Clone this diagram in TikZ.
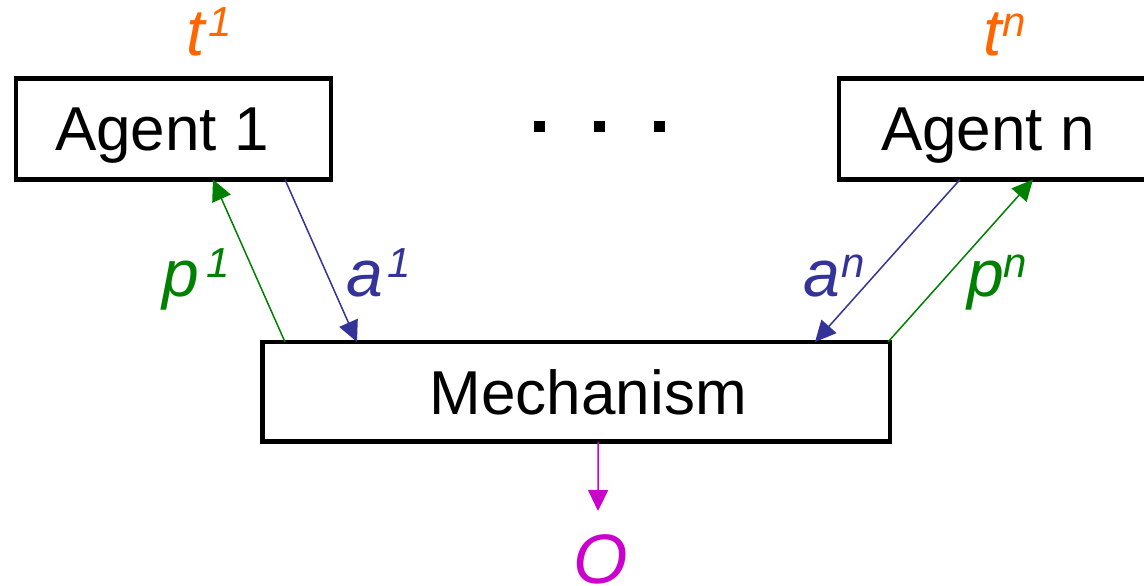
\documentclass[tikz,border=0pt]{standalone}
\usepackage{fontspec}
\setmainfont{Liberation Sans}
\usetikzlibrary{arrows.meta,calc}
\definecolor{torange}{RGB}{255,102,0}
\definecolor{pgreen}{RGB}{0,128,0}
\definecolor{ablue}{RGB}{51,51,153}
\definecolor{omag}{RGB}{204,0,204}
\newcommand\suplabel[3]{\fontsize{66}{70}\selectfont\itshape #1\hspace{#3}\raisebox{19pt}{\fontsize{42}{46}\selectfont #2}}
\begin{document}
\begin{tikzpicture}[x=1pt,y=-1pt,
  box/.style={draw, line width=4.5pt, outer sep=0pt, inner sep=0pt,
    font=\fontsize{62}{70}\selectfont, text depth=0pt},
  lbl/.style={anchor=base west, inner sep=0pt, outer sep=0pt},
  dotsq/.style={fill=black, inner sep=0pt, outer sep=0pt, minimum size=11pt},
  conn/.style={line width=1.5pt, -{Triangle[length=21pt,width=20pt]}}]
\useasboundingbox (0,0) rectangle (1144,586);
\clip (0,0) rectangle (1144,586);
% boxes
\node[box, minimum width=315pt, minimum height=101pt] (agent1) at (173.5,129) {Agent 1\hspace*{23pt}};
\node[box, minimum width=321pt, minimum height=101pt] (agentn) at (999.5,129) {Agent n\hspace*{23pt}};
\node[box, minimum width=627.5pt, minimum height=99.5pt] (mech) at (576.25,391.75) {\hspace*{24pt}Mechanism};
% dots
\node[dotsq] (d1) at (539.5,126) {};
\node[dotsq] (d2) at (599.5,126) {};
\node[dotsq] (d3) at (659,126) {};
% labels
\node[lbl, text=torange] (t1) at (186,56) {\suplabel{t}{1}{4pt}};
\node[lbl, text=torange] (tn) at (983,56) {\suplabel{t}{n}{1pt}};
\node[lbl, text=pgreen] (p1) at (162,296) {\suplabel{p}{1}{8pt}};
\node[lbl, text=ablue] (a1) at (346,296) {\suplabel{a}{1}{5pt}};
\node[lbl, text=ablue] (an) at (803,296) {\suplabel{a}{n}{2pt}};
\node[lbl, text=pgreen] (pn) at (967,296) {\suplabel{p}{n}{0pt}};
\node[lbl, text=omag, font=\fontsize{70}{74}\selectfont\itshape] (o) at (573,583) {O};
% connector end points
\coordinate (p1s) at ($(mech.north west)+(22.5,0)$);
\coordinate (p1e) at ($(agent1.south west)+(197,0)$);
\coordinate (a1s) at ($(agent1.south west)+(269,0)$);
\coordinate (a1e) at ($(mech.north west)+(94.5,0)$);
\coordinate (ans) at ($(agentn.south west)+(121,0)$);
\coordinate (ane) at ($(mech.north west)+(552.5,0)$);
\coordinate (pns) at ($(mech.north east)+(-2,0)$);
\coordinate (pne) at ($(agentn.south west)+(194,0)$);
\coordinate (os) at ($(mech.south)+(22,0)$);
\coordinate (oe) at (598,511);
% connectors
\draw[conn, pgreen] (p1s) -- (p1e);
\draw[conn, ablue] (a1s) -- (a1e);
\draw[conn, ablue] (ans) -- (ane);
\draw[conn, pgreen] (pns) -- (pne);
\draw[conn, omag] (os) -- (oe);
\end{tikzpicture}
\end{document}
